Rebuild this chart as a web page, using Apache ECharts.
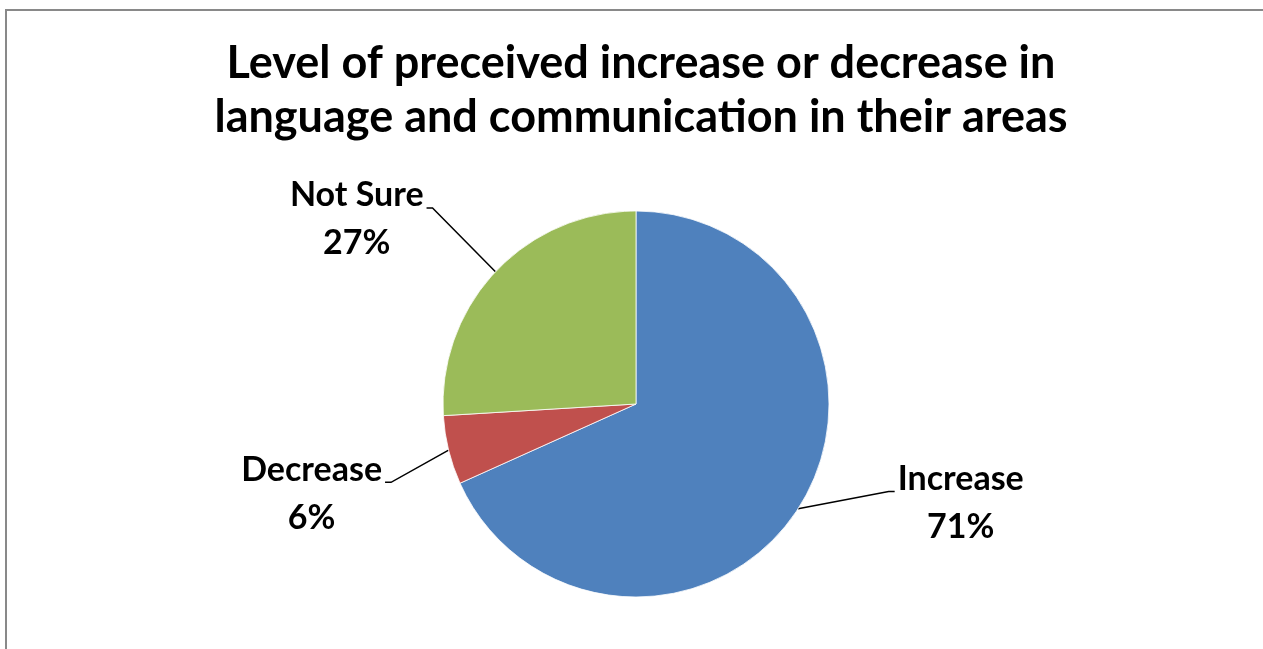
<!DOCTYPE html>
<html>
<head>
<meta charset="utf-8">
<title>Language and communication</title>
<script src="https://cdn.jsdelivr.net/npm/echarts@6/dist/echarts.min.js"></script>
<style>
  html, body { margin: 0; padding: 0; background: #fff; }
  #chart { width: 1263px; height: 649px; }
</style>
</head>
<body>
<div id="chart"></div>
<script>
// Survey answers and their shares (percent)
const categories = ['Increase', 'Decrease', 'Not Sure'];
const shares = [71, 6, 27];
const sliceColors = ['#4F81BD', '#C0504D', '#9BBB59'];

// Label offsets from the default outside position, per slice: [dx, dy]
const labelShift = [[67, -14], [-32, 40], [-41, -42]];

const FONT = 'Lato, "Open Sans", sans-serif';

const chart = echarts.init(document.getElementById('chart'));

chart.setOption({
  animation: false,
  backgroundColor: '#fff',
  title: {
    text: 'Level of preceived increase or decrease in\nlanguage and communication in their areas',
    left: 636,
    top: 31,
    textAlign: 'center',
    textStyle: {
      fontFamily: FONT,
      fontWeight: 'bold',
      fontSize: 45,
      lineHeight: 54,
      color: '#000'
    }
  },
  graphic: [{
    type: 'rect',
    silent: true,
    shape: { x: 6, y: 10, width: 1300, height: 700 },
    style: { fill: 'none', stroke: '#898989', lineWidth: 2 }
  }],
  series: [{
    type: 'pie',
    center: [636, 404],
    radius: 193,
    startAngle: 90,
    clockwise: true,
    avoidLabelOverlap: false,
    itemStyle: { borderColor: '#fff', borderWidth: 0.8 },
    label: {
      show: true,
      position: 'outside',
      formatter: '{t|{b}}\n{t|{c}%}',
      rich: {
        t: {
          align: 'center',
          fontFamily: FONT,
          fontWeight: 'bold',
          fontSize: 34,
          lineHeight: 48,
          color: '#000'
        }
      }
    },
    labelLine: {
      show: true,
      length: 15,
      length2: 15,
      lineStyle: { color: '#000', width: 1.5 }
    },
    labelLayout: function (p) {
      const s = labelShift[p.dataIndex];
      const r = p.labelRect;
      const pts = p.labelLinePoints;
      const onRight = r.x + r.width / 2 > pts[0][0];
      const left = r.x + s[0];
      const top = r.y + s[1];
      const y = top + r.height / 2;
      const x = onRight ? left : left + r.width;
      // leader meets the label a little above its middle
      const ay = top + r.height * 0.36;
      const ax = onRight ? left - 3 : left + r.width + 3;
      const bx = onRight ? ax - 6 : ax + 6;
      return {
        x: x,
        y: y,
        align: onRight ? 'left' : 'right',
        verticalAlign: 'middle',
        labelLinePoints: [[pts[0][0], pts[0][1]], [bx, ay], [ax, ay]]
      };
    },
    data: categories.map(function (name, i) {
      return { name: name, value: shares[i], itemStyle: { color: sliceColors[i] } };
    })
  }]
});
</script>
</body>
</html>
